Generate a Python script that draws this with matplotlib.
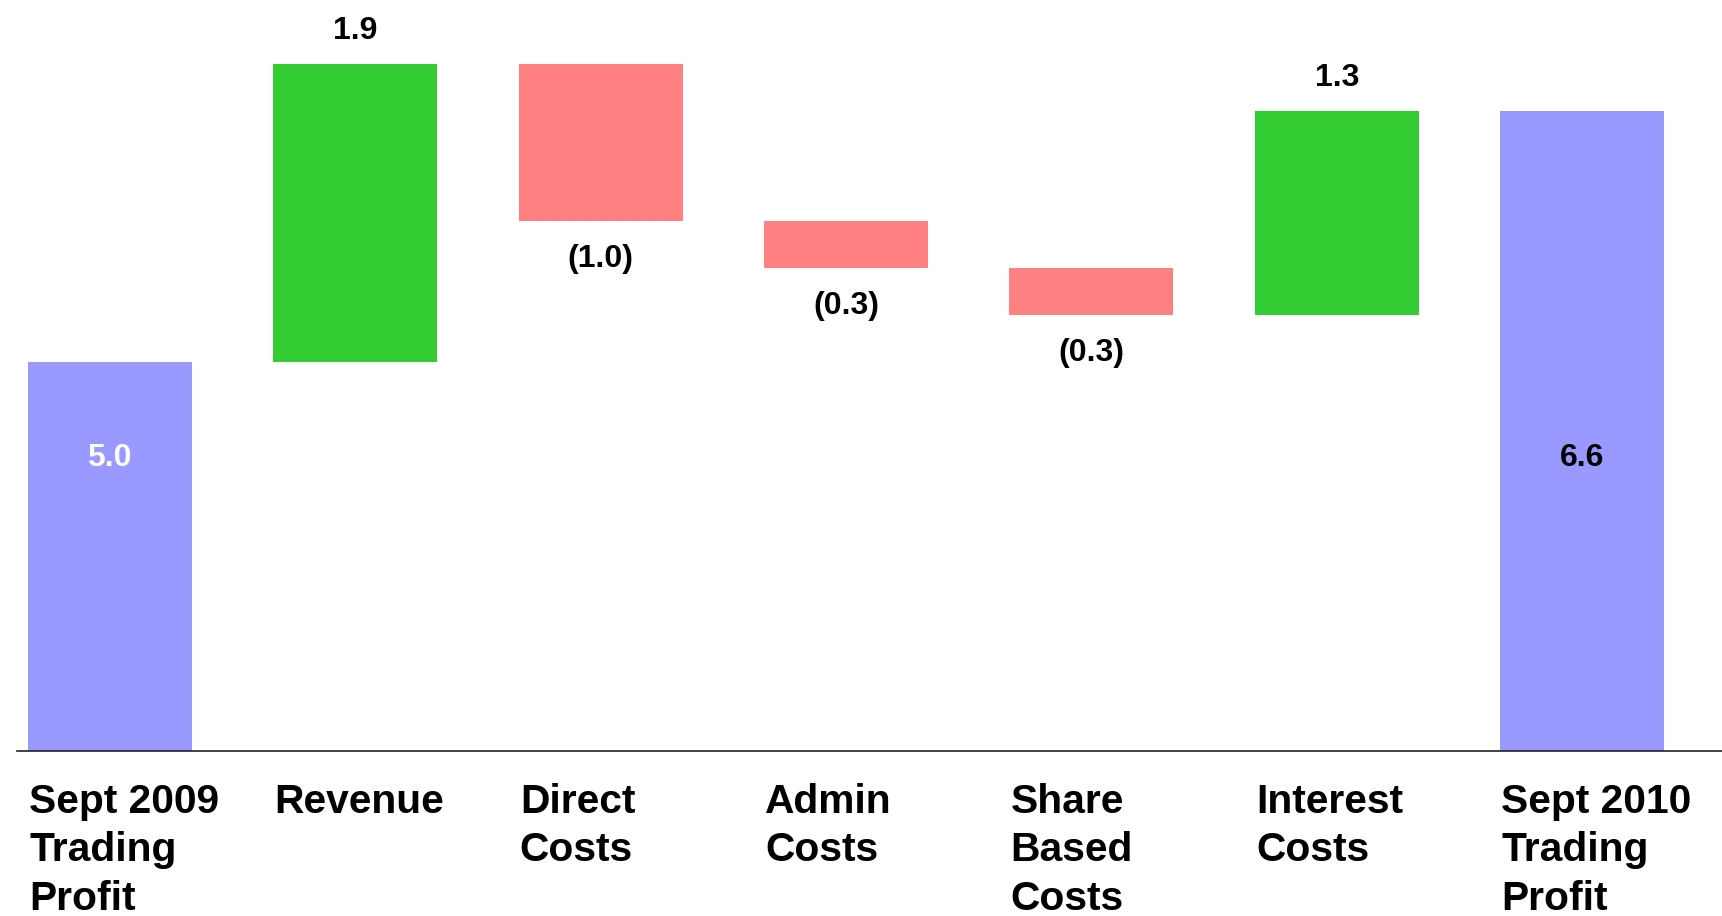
import numpy as np
import matplotlib.pyplot as plt
from matplotlib.transforms import blended_transform_factory

# Dati del grafico a cascata
categories = ["Sept 2009\nTrading\nProfit", "Revenue", "Direct\nCosts", "Admin\nCosts",
              "Share\nBased\nCosts", "Interest\nCosts", "Sept 2010\nTrading\nProfit"]
values = [5.0, 1.9, -1.0, -0.3, -0.3, 1.3, 6.6]
is_total = [True, False, False, False, False, False, True]
total_label_colors = ['white', 'black']

plt.rcParams['font.family'] = ['Liberation Sans', 'DejaVu Sans']
plt.rcParams['font.weight'] = 'bold'

fig = plt.figure(figsize=(17.22, 9.16), dpi=100)
ax = fig.add_axes([17 / 1722, 165 / 916, 1 - 17 / 1722, 751 / 916])

x = np.arange(len(values))
w = 0.668
blue, green, red = '#9999FF', '#33CC33', '#FF8080'

running = 0.0
tot_idx = 0
for i, (v, tot) in enumerate(zip(values, is_total)):
    if tot:
        ax.bar(x[i], v, width=w, bottom=0, color=blue, zorder=1)
        ax.text(x[i], 4.39, f"{v:.1f}", ha='center', va='center', fontsize=23,
                fontweight='bold', color=total_label_colors[tot_idx])
        tot_idx += 1
        running = v
    else:
        col = green if v > 0 else red
        ax.bar(x[i], v, width=w, bottom=running, color=col, zorder=1)
        end = running + v
        if v > 0:
            ax.annotate(f"{v:.1f}", (x[i], end), xytext=(0, 23.6), textcoords='offset points',
                        ha='center', va='center', fontsize=23, fontweight='bold')
        else:
            ax.annotate(f"({abs(v):.1f})", (x[i], end), xytext=(0, -27.4), textcoords='offset points',
                        ha='center', va='center', fontsize=23, fontweight='bold')
        running = end

# Etichette delle categorie, allineate a sinistra sotto le barre
trans = blended_transform_factory(ax.transData, ax.transAxes)
for i, cat in enumerate(categories):
    ax.text(x[i] - w / 2 + 0.005, -0.042, cat, transform=trans, ha='left', va='top',
            fontsize=29.3, fontweight='bold', linespacing=1.35)

ax.set_xlim(-0.378, 6.570)
ax.set_ylim(2.525, 7.308)
for s in ['left', 'top', 'right']:
    ax.spines[s].set_visible(False)
ax.spines['bottom'].set_color('#222222')
ax.spines['bottom'].set_linewidth(1.2)
ax.set_xticks([])
ax.set_yticks([])

fig.savefig('out.png', dpi=100)
